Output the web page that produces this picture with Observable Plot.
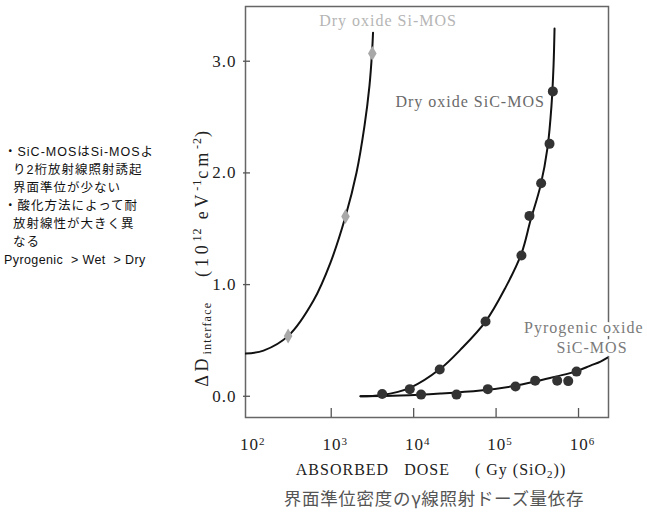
<!DOCTYPE html>
<html><head><meta charset="utf-8">
<script src="https://cdn.jsdelivr.net/npm/d3@7"></script>
<script src="https://cdn.jsdelivr.net/npm/@observablehq/plot@0.6"></script>
<style>
body{margin:0;background:#fff;}
#wrap{position:relative;width:647px;height:517px;overflow:hidden;background:#fff;}
#notes{position:absolute;left:4px;top:143px;font-family:"Liberation Sans","Noto Sans CJK JP",sans-serif;font-size:12.5px;line-height:18px;color:#111;letter-spacing:1px;white-space:pre;}
#notes .last{letter-spacing:0.4px;font-size:12.5px;}
#ylab{position:absolute;left:51px;top:246px;width:300px;text-align:center;transform:rotate(-90deg);transform-origin:150px 11px;font-family:"Liberation Serif",serif;font-size:18px;color:#222;letter-spacing:3.8px;white-space:pre;}
#ylab sub{font-size:12px;vertical-align:-3px;letter-spacing:1.2px;}
#ylab sup{font-size:12px;vertical-align:7px;letter-spacing:1px;}
#xlab{position:absolute;left:0;top:461px;width:862px;text-align:center;font-family:"Liberation Serif",serif;font-size:16px;color:#222;white-space:pre;letter-spacing:1px;}
#xlab sub{font-size:11px;vertical-align:-3px;}
#cap{position:absolute;left:0;top:485px;width:868px;text-align:center;font-family:"Noto Sans CJK JP",sans-serif;font-size:17.5px;color:#555;letter-spacing:0.7px;}
</style></head><body><div id="wrap"></div>
<script>
// ---- data ----
const xTicks = [1e2, 1e3, 1e4, 1e5, 1e6];
const xTickBase = "10";
const xTickExponents = ["2", "3", "4", "5", "6"];
const yTicks = [0, 1, 2, 3];
const yTickLabels = ["0.0", "1.0", "2.0", "3.0"];

// Dry oxide Si-MOS: measured points (dose Gy, ΔD 1e12 eV^-1 cm^-2)
const siDose = [300, 1490, 3150];
const siVal  = [0.54, 1.61, 3.07];
// Dry oxide Si-MOS: drawn curve, points read along it
const siCurveDose = [91.2, 150.7, 303.4, 609.5, 979.5, 1489, 2028, 2535, 2911, 3126, 3214];
const siCurveVal  = [0.382, 0.409, 0.543, 0.857, 1.197, 1.609, 2.003, 2.423, 2.782, 3.077, 3.256];

// Dry oxide SiC-MOS
const dryDose = [4150, 8970, 20700, 74500, 203000, 254000, 352000, 445000, 488000];
const dryVal  = [0.02, 0.064, 0.239, 0.669, 1.26, 1.615, 1.907, 2.26, 2.73];
const dryCurveDose = [2265, 4074, 9162, 21180, 36980, 74470, 130000, 203200, 261200, 345900, 420700, 469900, 497700, 511700];
const dryCurveVal  = [0, 0.011, 0.078, 0.248, 0.418, 0.669, 0.973, 1.278, 1.573, 1.886, 2.227, 2.603, 2.962, 3.292];

// Pyrogenic oxide SiC-MOS
const pyroDose = [12300, 33100, 79300, 172000, 298000, 551000, 750000, 946000];
const pyroVal  = [0.015, 0.015, 0.064, 0.087, 0.14, 0.14, 0.136, 0.221];
const pyroCurveDose = [2265, 6918, 21180, 64710, 149600, 300600, 526000, 918300, 1396000, 1849000, 2249000];
const pyroCurveVal  = [0, 0.006, 0.024, 0.051, 0.087, 0.132, 0.176, 0.221, 0.275, 0.311, 0.346];

const seriesLabels = ["Dry oxide Si-MOS", "Dry oxide SiC-MOS", "Pyrogenic oxide", "SiC-MOS"];
const notesText = ["・SiC-MOSはSi-MOSよ", "  り2桁放射線照射誘起", "  界面準位が少ない", "・酸化方法によって耐", "  放射線性が大きく異", "  なる"];
const notesLast = "Pyrogenic  > Wet  > Dry";
const xTitle = "ABSORBED   DOSE     ( Gy (SiO<sub>2</sub>))";
const caption = "界面準位密度のγ線照射ドーズ量依存";

// ---- build tables ----
const zip = (xs, ys) => xs.map((x, i) => ({x, y: ys[i]}));
const siPts = zip(siDose, siVal), siCurve = zip(siCurveDose, siCurveVal);
const dryPts = zip(dryDose, dryVal), dryCurve = zip(dryCurveDose, dryCurveVal);
const pyroPts = zip(pyroDose, pyroVal), pyroCurve = zip(pyroCurveDose, pyroCurveVal);

const W = 647, H = 517;
const mL = 245, mR = 39, mT = 6, mB = 100;
const frameW = W - mL - mR, frameH = H - mT - mB;

const serif = "Liberation Serif, serif";

const chart = Plot.plot({
  width: W, height: H,
  marginLeft: mL, marginRight: mR, marginTop: mT, marginBottom: mB,
  style: {fontFamily: serif, fontSize: "16px", background: "white", color: "#222"},
  x: {type: "log", domain: [91.2, 2310000]},
  y: {domain: [-0.19, 3.49]},
  marks: [
    Plot.frame({stroke: "#666", strokeWidth: 1.5}),
    Plot.axisX(xTicks, {tickSize: 0, tickPadding: 20, dx: 4, tickFormat: d => xTickBase + "^" + xTickExponents[xTicks.indexOf(d)], fontSize: 17, fill: "#222", label: null}),
    Plot.axisY(yTicks, {tickSize: 0, tickPadding: 9, tickFormat: d => yTickLabels[yTicks.indexOf(d)], fontSize: 17, fill: "#222", label: null}),
    Plot.tickX(xTicks.filter(d => d >= 1e3), {x: d => d, insetTop: frameH - 9, stroke: "#555", strokeWidth: 1.3}),
    Plot.tickY(yTicks, {y: d => d, insetRight: frameW - 7, dx: -2, stroke: "#555", strokeWidth: 1.3}),
    Plot.line(siCurve, {x: "x", y: "y", curve: "catmull-rom", stroke: "#111", strokeWidth: 2, clip: true}),
    Plot.line(dryCurve, {x: "x", y: "y", curve: "catmull-rom", stroke: "#111", strokeWidth: 2, clip: true}),
    Plot.line(pyroCurve, {x: "x", y: "y", curve: "catmull-rom", stroke: "#111", strokeWidth: 2, clip: true}),
    Plot.dot(siPts, {x: "x", y: "y", symbol: "diamond", r: 4.5, fill: "#a8a8a8", stroke: "none"}),
    Plot.dot(dryPts, {x: "x", y: "y", r: 5, fill: "#333", stroke: "none"}),
    Plot.dot(pyroPts, {x: "x", y: "y", r: 5, fill: "#333", stroke: "none"}),
    // series labels, anchored to the curve ends
    Plot.text([siCurve[siCurve.length - 1]], {x: "x", y: "y", text: () => seriesLabels[0], dx: 15, dy: -12, textAnchor: "middle", fill: "#b5b5b5", fontSize: 16, fontFamily: serif}),
    Plot.text([dryPts[dryPts.length - 1]], {x: "x", y: "y", text: () => seriesLabels[1], dx: -8, dy: 10, textAnchor: "end", fill: "#6a6a6a", fontSize: 16, fontFamily: serif, stroke: "white", strokeWidth: 3}),
    Plot.text([pyroCurve[pyroCurve.length - 1]], {x: "x", y: "y", text: () => seriesLabels[2], dx: 36, dy: -30, textAnchor: "end", fill: "#7a7a7a", fontSize: 16, fontFamily: serif, stroke: "white", strokeWidth: 6}),
    Plot.text([pyroCurve[pyroCurve.length - 1]], {x: "x", y: "y", text: () => seriesLabels[3], dx: 20, dy: -10, textAnchor: "end", fill: "#7a7a7a", fontSize: 16, fontFamily: serif, stroke: "white", strokeWidth: 6})
  ]
});

const wrap = document.getElementById("wrap");
wrap.appendChild(chart);
d3.select(chart).selectAll("text").style("letter-spacing", "1px");
// turn "10^n" into 10 with a superscript
d3.select(chart).selectAll("text").each(function() {
  const t = this.textContent;
  if (t.includes("^")) {
    const [base, exp] = t.split("^");
    const sel = d3.select(this);
    sel.text(null).style("font-size", "17px");
    sel.append("tspan").style("font-size", "17px").text(base);
    sel.append("tspan").attr("dy", "-0.45em").style("font-size", "11px").text(exp);
  }
});

const notes = document.createElement("div");
notes.id = "notes";
notes.textContent = notesText.join("\n") + "\n";
const last = document.createElement("span");
last.className = "last";
last.textContent = notesLast;
notes.appendChild(last);
wrap.appendChild(notes);

const ylab = document.createElement("div");
ylab.id = "ylab";
ylab.innerHTML = "ΔD<sub>interface</sub>   (10<sup>12</sup> eV<sup>-1</sup>cm<sup>-2</sup>)";
wrap.appendChild(ylab);

const xlab = document.createElement("div");
xlab.id = "xlab";
xlab.innerHTML = xTitle;
wrap.appendChild(xlab);

const cap = document.createElement("div");
cap.id = "cap";
cap.textContent = caption;
wrap.appendChild(cap);
</script>
</body></html>
